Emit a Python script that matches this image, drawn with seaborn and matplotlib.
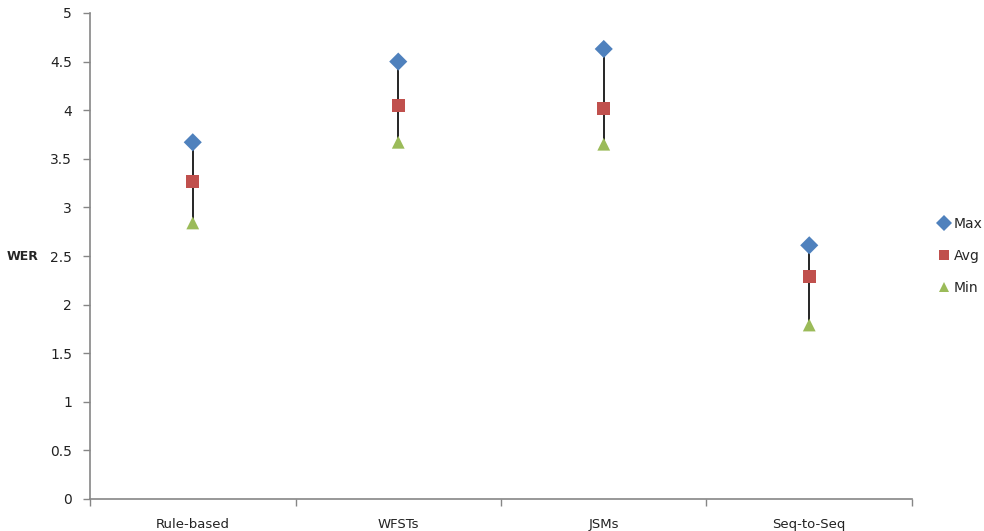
import matplotlib
matplotlib.use('Agg')
import matplotlib.pyplot as plt
import numpy as np
import pandas as pd
import seaborn as sns

sns.set_style('white')
plt.rcParams['font.family'] = ['DejaVu Sans']

methods = ['Rule-based', 'WFSTs', 'JSMs', 'Seq-to-Seq']
wer_max = [3.67, 4.50, 4.63, 2.61]
wer_avg = [3.27, 4.05, 4.02, 2.29]
wer_min = [2.84, 3.67, 3.65, 1.79]

df = pd.DataFrame({
    'method': methods * 3,
    'stat': ['Max'] * 4 + ['Avg'] * 4 + ['Min'] * 4,
    'WER': wer_max + wer_avg + wer_min,
})

pal = {'Max': '#4F81BD', 'Avg': '#C0504D', 'Min': '#9BBB59'}
mk = {'Max': 'D', 'Avg': 's', 'Min': '^'}

fig = plt.figure(figsize=(9.84, 5.31), dpi=100)
ax = fig.add_axes([90 / 984, 1 - 499 / 531, 822 / 984, 486 / 531])

# high-low lines
ax.vlines(np.arange(len(methods)), wer_min, wer_max, color='black', lw=1.2, zorder=1)

sns.scatterplot(data=df, x='method', y='WER', hue='stat', style='stat',
                palette=pal, markers=mk, s=85, linewidth=0, ax=ax, zorder=3)

ax.set_xlim(-0.5, 3.5)
ax.set_ylim(0, 5)
ax.set_yticks(np.arange(0, 5.01, 0.5))
ax.set_yticklabels(['0', '0.5', '1', '1.5', '2', '2.5', '3', '3.5', '4', '4.5', '5'])
ax.set_xticks(range(len(methods)))
ax.set_xticklabels(methods)
ax.set_xticks(np.arange(-0.5, 3.6, 1), minor=True)
ax.tick_params(axis='x', which='major', length=0, pad=14, labelsize=9.5, colors='#222222')
ax.tick_params(axis='x', which='minor', length=5, width=1, color='#868686', direction='out', bottom=True)
ax.tick_params(axis='y', length=5, width=1, color='#868686', direction='out', left=True,
               labelsize=10, labelcolor='#222222', pad=8)

for s in ['top', 'right']:
    ax.spines[s].set_visible(False)
for s in ['left', 'bottom']:
    ax.spines[s].set_color('#868686')
    ax.spines[s].set_linewidth(1.2)

ax.set_xlabel('')
ax.set_ylabel('WER', rotation=0, fontweight='bold', fontsize=9, labelpad=20, va='center')

ax.legend(loc='center left', bbox_to_anchor=(1.032, 0.5), frameon=False, fontsize=10,
          handlelength=0.8, handletextpad=0.3, labelspacing=1.3, markerscale=0.85,
          borderaxespad=0, borderpad=0)

fig.savefig('out.png', dpi=100)
